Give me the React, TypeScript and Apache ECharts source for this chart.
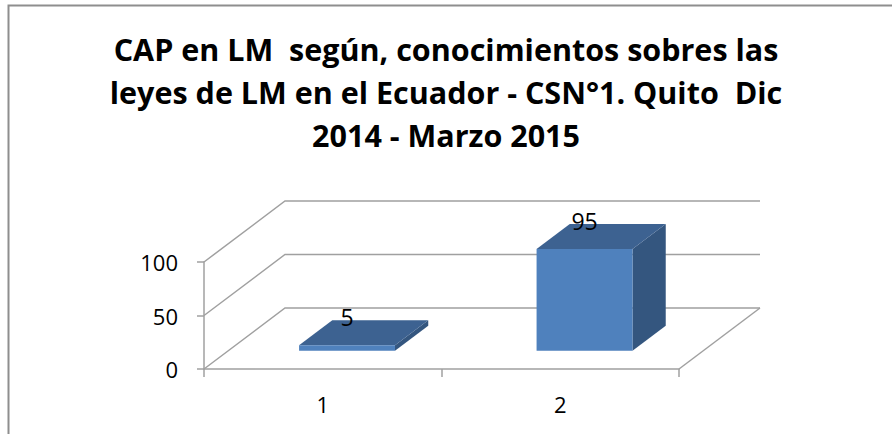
import React, { useEffect, useRef } from "react";
import * as echarts from "echarts";

const titleLines = [
  "CAP en LM  según, conocimientos sobres las",
  "leyes de LM en el Ecuador - CSN°1. Quito  Dic",
  "2014 - Marzo 2015",
];
const categories = ["1", "2"];
const values = [5, 95];
const yTicks = [0, 50, 100];
const yMin = 0;
const yMax = 100;
const yInterval = 50;

const DX = 81;
const DY = -61;
const BAR_FRONT_DEPTH = 0.3;
const BAR_DEPTH = 0.41;
const GRID_COLOR = "#A0A0A0";
const FONT = "'Open Sans', 'Liberation Sans', sans-serif";

export default function App() {
  const ref = useRef<HTMLDivElement>(null);
  useEffect(() => {
    if (!ref.current) return;
    const chart = echarts.init(ref.current, null, { renderer: "svg" });
    const option: any = {
      animation: false,
      backgroundColor: "#ffffff",
      title: {
        text: titleLines.join("\n"),
        left: "center",
        top: 27,
        padding: 0,
        textStyle: {
          fontFamily: FONT,
          fontWeight: "bold",
          fontSize: 30.5,
          lineHeight: 43,
          color: "#000000",
        },
      },
      graphic: [
        {
          type: "rect",
          shape: { x: 8.5, y: 5.5, width: 1000, height: 1000 },
          style: { fill: "none", stroke: "#8E8E8E", lineWidth: 2 },
          silent: true,
          z: 100,
        },
      ],
      grid: { left: 204, top: 262, width: 475, height: 107 },
      xAxis: {
        type: "category",
        data: categories,
        axisLine: { show: true, lineStyle: { color: GRID_COLOR, width: 1.5 } },
        axisTick: { show: true, length: 8, lineStyle: { color: GRID_COLOR, width: 1.5 } },
        axisLabel: { margin: 24, fontFamily: FONT, fontSize: 22, color: "#000" },
        splitLine: { show: false },
      },
      yAxis: {
        type: "value",
        min: yMin,
        max: yMax,
        interval: yInterval,
        axisLine: { show: true, lineStyle: { color: GRID_COLOR, width: 1.5 } },
        axisTick: { show: true, length: 7, lineStyle: { color: GRID_COLOR, width: 1.5 } },
        axisLabel: { margin: 26, fontFamily: FONT, fontSize: 22, color: "#000" },
        splitLine: { show: false },
      },
      series: [
        {
          type: "custom",
          silent: true,
          z: 1,
          data: yTicks.map((v) => [0, v]),
          renderItem: (params: any, api: any) => {
            const cs = params.coordSys;
            const v = api.value(1);
            const y = api.coord([0, v])[1];
            const x0 = cs.x;
            const x1 = cs.x + cs.width;
            const children: any[] = [
              {
                type: "polyline",
                shape: { points: [[x0, y], [x0 + DX, y + DY], [x1 + DX, y + DY]] },
                style: { stroke: GRID_COLOR, fill: "none", lineWidth: 1.5 },
              },
            ];
            if (v === yMin) {
              children.push({
                type: "line",
                shape: { x1: x1, y1: y, x2: x1 + DX, y2: y + DY },
                style: { stroke: GRID_COLOR, lineWidth: 1.5 },
              });
            }
            return { type: "group", children };
          },
        },
        {
          type: "custom",
          z: 5,
          data: values.map((v, i) => [i, v]),
          renderItem: (params: any, api: any) => {
            const idx = api.value(0);
            const val = api.value(1);
            const top = api.coord([idx, val]);
            const base = api.coord([idx, 0]);
            const bw = api.size([1, 0])[0] * 0.404;
            const ox = DX * BAR_FRONT_DEPTH;
            const oy = DY * BAR_FRONT_DEPTH;
            const ddx = DX * BAR_DEPTH;
            const ddy = DY * BAR_DEPTH;
            const L = top[0] - bw / 2 + ox;
            const R = top[0] + bw / 2 + ox;
            const T = top[1] + oy;
            const B = base[1] + oy;
            return {
              type: "group",
              children: [
                {
                  type: "polygon",
                  shape: { points: [[R, T], [R + ddx, T + ddy], [R + ddx, B + ddy], [R, B]] },
                  style: { fill: "#34567F" },
                },
                {
                  type: "polygon",
                  shape: { points: [[L, T], [R, T], [R + ddx, T + ddy], [L + ddx, T + ddy]] },
                  style: { fill: "#3D6291" },
                },
                {
                  type: "rect",
                  shape: { x: L, y: T, width: R - L, height: Math.max(B - T, 1) },
                  style: { fill: "#4F81BD" },
                },
                {
                  type: "text",
                  style: {
                    text: String(val),
                    x: (L + R) / 2,
                    y: T - 28,
                    align: "center",
                    verticalAlign: "middle",
                    fontFamily: FONT,
                    fontSize: 23,
                    fill: "#000",
                  },
                },
              ],
            };
          },
        },
      ],
    };
    chart.setOption(option);
    return () => chart.dispose();
  }, []);
  return (
    <div
      ref={ref}
      style={{ position: "absolute", left: 0, top: 0, width: 892, height: 434 }}
    />
  );
}
